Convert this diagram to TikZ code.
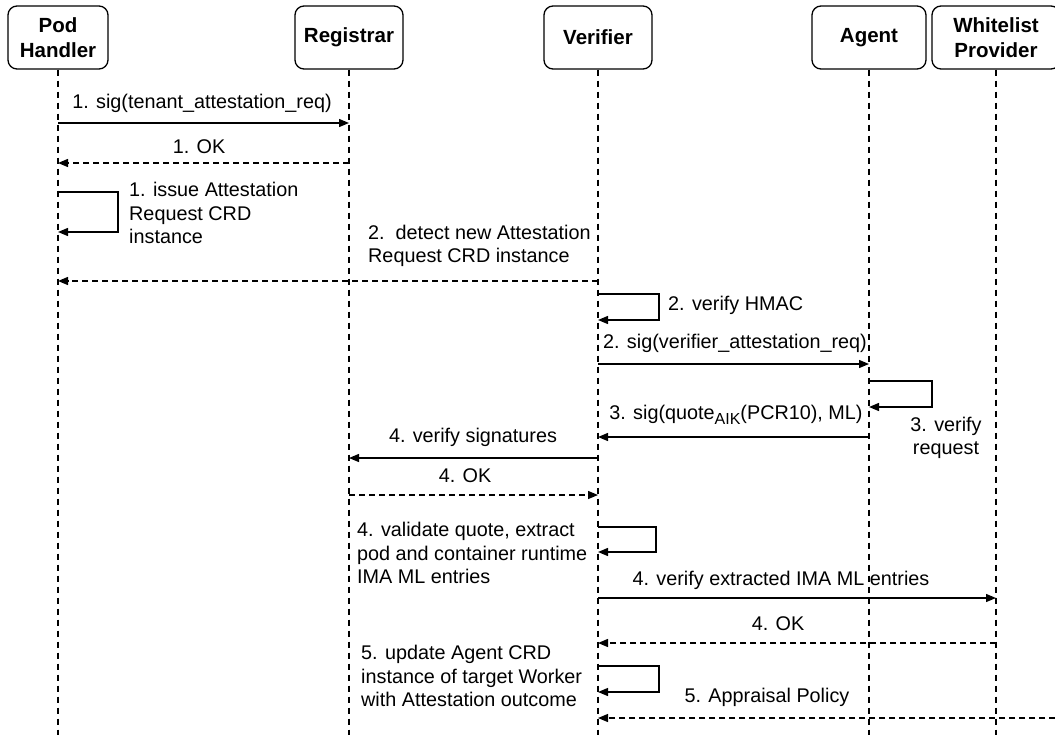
\documentclass[tikz,border=0pt]{standalone}
\usepackage{fontspec}
\setmainfont{Liberation Sans}
\usetikzlibrary{arrows.meta}

\tikzset{
  actor/.style={draw, rounded corners=9pt, line width=1.3pt, inner sep=0pt,
    minimum height=63pt, align=center,
    font=\bfseries\fontsize{20.5}{25}\selectfont},
  lbl/.style={inner sep=0pt, font=\fontsize{19.8}{23.5}\selectfont},
  lblL/.style={lbl, align=left, anchor=west},
  msg/.style={line width=1.3pt, -{Triangle[length=10pt,width=8pt]}},
  ret/.style={msg, dash pattern=on 6pt off 4pt},
  life/.style={line width=1.3pt, dash pattern=on 6pt off 5pt},
}

\newcommand{\subAIK}{\raisebox{-5pt}{\fontsize{16}{16}\selectfont AIK}}

\begin{document}
\begin{tikzpicture}[x=1pt, y=-1pt]
  \clip (0,0) rectangle (1055,734);
  \fill[white] (0,0) rectangle (1055,734);

  % participants
  \node[actor, minimum width=100pt] (ph) at (58,37.5) {Pod\\Handler};
  \node[actor, minimum width=108pt] (reg) at (349,37.5) {Registrar};
  \node[actor, minimum width=108pt] (vf) at (598,37.5) {Verifier};
  \node[actor, minimum width=114pt] (ag) at (869,37.5) {Agent};
  \node[actor, minimum width=128pt] (wl) at (996,37.5) {Whitelist\\Provider};

  % lifelines
  \foreach \p in {ph,reg,vf,ag,wl}
    \draw[life] (\p.south) -- (\p |- 0,740);

  % step 1
  \draw[msg] (ph |- 0,123) -- (reg |- 0,123);
  \node[lbl] (l1) at (202,103) {1. sig(tenant\_attestation\_req)};
  \draw[ret] (reg |- 0,163) -- (ph |- 0,163);
  \node[lbl] (l2) at (199,147) {1. OK};
  \draw[msg] (ph |- 0,192) -- ++(60,0) |- (ph |- 0,232);
  \node[lblL] (l3) at (129,213) {1. issue Attestation\\Request CRD\\instance};

  % step 2
  \draw[ret] (vf |- 0,281) -- (ph |- 0,281);
  \node[lblL] (l4) at (368,246) {2.\ \ detect new Attestation\\Request CRD instance};
  \draw[msg] (vf |- 0,294) -- ++(61,0) |- (vf |- 0,320);
  \node[lblL] (l5) at (668,305) {2. verify HMAC};
  \draw[msg] (vf |- 0,364) -- (ag |- 0,364);
  \node[lbl] (l6) at (735,343) {2. sig(verifier\_attestation\_req)};

  % step 3
  \draw[msg] (ag |- 0,381) -- ++(63,0) |- (ag |- 0,407);
  \node[lbl, align=center] (l7) at (946,438) {3. verify\\request};
  \draw[msg] (ag |- 0,437) -- (vf |- 0,437);
  \node[lbl] (l8) at (736,415) {3. sig(quote\subAIK(PCR10), ML)};

  % step 4
  \draw[msg] (vf |- 0,458) -- (reg |- 0,458);
  \node[lbl] (l9) at (473,437) {4. verify signatures};
  \draw[ret] (reg |- 0,495) -- (vf |- 0,495);
  \node[lbl] (l10) at (465,476) {4. OK};
  \draw[msg] (vf |- 0,527) -- ++(58,0) |- (vf |- 0,552);
  \node[lblL] (l11) at (357,553) {4. validate quote, extract\\pod and container runtime\\IMA ML entries};
  \draw[msg] (vf |- 0,598) -- (wl |- 0,598);
  \node[lbl] (l12) at (781,580) {4. verify extracted IMA ML entries};
  \draw[ret] (wl |- 0,643) -- (vf |- 0,643);
  \node[lbl] (l13) at (778,624) {4. OK};

  % step 5
  \draw[msg] (vf |- 0,666) -- ++(61,0) |- (vf |- 0,692);
  \node[lblL] (l14) at (361,676) {5. update Agent CRD\\instance of target Worker\\with Attestation outcome};
  \coordinate (offright) at (1065,718);
  \draw[ret] (offright) -- (vf |- 0,718);
  \node[lbl] (l15) at (767,697) {5. Appraisal Policy};
\end{tikzpicture}
\end{document}
